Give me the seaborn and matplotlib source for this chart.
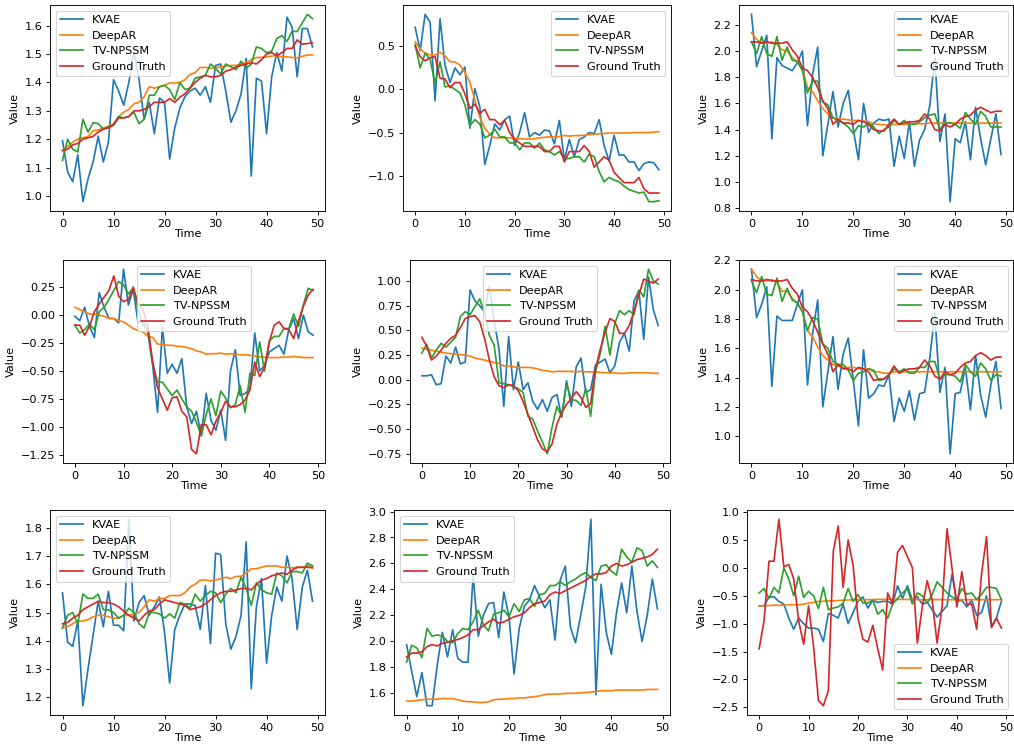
import numpy as np
import seaborn as sns
import matplotlib.pyplot as plt

series_names = ['KVAE', 'DeepAR', 'TV-NPSSM', 'Ground Truth']
time = np.arange(50)

# panel 1
kvae_1 = [1.195, 1.085, 1.05, 1.145, 0.98, 1.06, 1.12, 1.21, 1.12, 1.19, 1.41, 1.37, 1.32, 1.40, 1.51, 1.41, 1.27, 1.33, 1.22, 1.345,
          1.33, 1.13, 1.24, 1.31, 1.35, 1.37, 1.38, 1.355, 1.385, 1.33, 1.46, 1.465, 1.37, 1.26, 1.30, 1.36, 1.485, 1.07, 1.415, 1.405,
          1.22, 1.42, 1.505, 1.44, 1.63, 1.595, 1.42, 1.59, 1.59, 1.525]
deepar_1 = [1.16, 1.175, 1.19, 1.20, 1.205, 1.21, 1.23, 1.232, 1.24, 1.245, 1.255, 1.28, 1.295, 1.305, 1.325, 1.33, 1.35, 1.385, 1.38, 1.385,
            1.39, 1.398, 1.398, 1.40, 1.41, 1.428, 1.435, 1.453, 1.453, 1.45, 1.452, 1.455, 1.458, 1.46, 1.46, 1.465, 1.47, 1.48, 1.488, 1.488,
            1.49, 1.493, 1.495, 1.49, 1.49, 1.488, 1.487, 1.492, 1.497, 1.497]
tvnpssm_1 = [1.125, 1.20, 1.165, 1.155, 1.27, 1.225, 1.258, 1.255, 1.235, 1.245, 1.25, 1.28, 1.275, 1.28, 1.295, 1.255, 1.27, 1.355, 1.355, 1.385,
             1.39, 1.375, 1.34, 1.40, 1.375, 1.38, 1.415, 1.42, 1.425, 1.465, 1.45, 1.43, 1.465, 1.455, 1.445, 1.475, 1.45, 1.465, 1.525, 1.52,
             1.505, 1.51, 1.555, 1.565, 1.545, 1.58, 1.58, 1.61, 1.64, 1.625]
truth_1 = [1.16, 1.165, 1.18, 1.185, 1.20, 1.205, 1.21, 1.225, 1.235, 1.24, 1.25, 1.275, 1.275, 1.28, 1.30, 1.30, 1.305, 1.315, 1.33, 1.33,
           1.33, 1.343, 1.33, 1.348, 1.36, 1.38, 1.40, 1.415, 1.425, 1.42, 1.42, 1.425, 1.44, 1.445, 1.455, 1.46, 1.465, 1.47, 1.465, 1.48,
           1.50, 1.505, 1.495, 1.505, 1.52, 1.52, 1.55, 1.535, 1.537, 1.54]

# panel 2
kvae_2 = [0.72, 0.45, 0.87, 0.78, -0.13, 0.82, 0.28, 0.08, 0.25, 0.17, 0.26, -0.45, 0.01, -0.20, -0.87, -0.65, -0.40, -0.47, -0.35, -0.31,
          -0.65, -0.50, -0.27, -0.55, -0.50, -0.53, -0.47, -0.48, -0.63, -0.36, -0.82, -0.58, -0.78, -0.58, -0.55, -0.50, -0.51, -0.35, -0.65, -0.83,
          -0.53, -0.76, -0.76, -0.84, -0.84, -0.94, -0.86, -0.84, -0.85, -0.93]
deepar_2 = [0.55, 0.47, 0.42, 0.40, 0.40, 0.43, 0.39, 0.32, 0.32, 0.28, 0.20, 0.08, -0.12, -0.32, -0.45, -0.52, -0.56, -0.56, -0.56, -0.56,
            -0.565, -0.57, -0.575, -0.575, -0.57, -0.56, -0.555, -0.55, -0.55, -0.545, -0.535, -0.54, -0.535, -0.535, -0.53, -0.525, -0.52, -0.515, -0.51, -0.505,
            -0.505, -0.505, -0.505, -0.505, -0.50, -0.50, -0.50, -0.50, -0.495, -0.49]
tvnpssm_2 = [0.52, 0.25, 0.42, 0.35, 0.07, 0.32, 0.03, 0.04, 0.00, -0.04, -0.18, -0.42, -0.35, -0.40, -0.56, -0.53, -0.46, -0.55, -0.55, -0.62,
             -0.62, -0.70, -0.62, -0.62, -0.68, -0.62, -0.70, -0.72, -0.76, -0.72, -0.80, -0.80, -0.78, -0.78, -0.84, -0.75, -0.78, -0.95, -1.07, -1.02,
             -1.05, -1.07, -1.12, -1.16, -1.18, -1.20, -1.19, -1.30, -1.30, -1.29]
truth_2 = [0.50, 0.38, 0.33, 0.37, 0.38, 0.13, 0.12, 0.02, 0.08, 0.08, -0.05, -0.22, -0.17, -0.28, -0.23, -0.35, -0.35, -0.41, -0.36, -0.50,
           -0.58, -0.62, -0.66, -0.66, -0.66, -0.66, -0.72, -0.72, -0.66, -0.66, -0.84, -0.72, -0.72, -0.72, -0.65, -0.72, -0.90, -0.84, -0.78, -0.82,
           -0.96, -1.02, -1.08, -1.08, -1.08, -1.02, -1.15, -1.20, -1.20, -1.20]

# panel 3
kvae_3 = [2.28, 1.88, 2.00, 2.12, 1.33, 1.95, 1.89, 1.87, 1.85, 1.91, 2.00, 1.43, 1.82, 2.03, 1.20, 1.44, 1.69, 1.42, 1.60, 1.70,
          1.40, 1.17, 1.60, 1.38, 1.45, 1.48, 1.47, 1.48, 1.12, 1.35, 1.18, 1.46, 1.12, 1.32, 1.40, 1.58, 1.95, 1.31, 1.52, 0.85,
          1.33, 1.30, 1.46, 1.17, 1.57, 1.33, 1.13, 1.33, 1.52, 1.21]
deepar_3 = [2.14, 2.09, 2.06, 2.06, 2.07, 2.05, 2.01, 2.00, 1.95, 1.92, 1.86, 1.72, 1.69, 1.62, 1.56, 1.52, 1.49, 1.48, 1.48, 1.475,
            1.47, 1.47, 1.465, 1.46, 1.445, 1.44, 1.435, 1.435, 1.44, 1.44, 1.44, 1.44, 1.445, 1.445, 1.445, 1.45, 1.45, 1.45, 1.45, 1.45,
            1.45, 1.45, 1.45, 1.45, 1.45, 1.45, 1.45, 1.45, 1.45, 1.45]
tvnpssm_3 = [2.07, 1.98, 2.11, 1.98, 1.96, 2.11, 1.93, 2.03, 1.93, 1.92, 1.85, 1.68, 1.77, 1.77, 1.61, 1.59, 1.49, 1.47, 1.45, 1.42,
             1.37, 1.43, 1.42, 1.45, 1.42, 1.37, 1.40, 1.42, 1.47, 1.44, 1.47, 1.44, 1.44, 1.46, 1.49, 1.51, 1.52, 1.40, 1.45, 1.45,
             1.44, 1.41, 1.53, 1.48, 1.44, 1.54, 1.50, 1.42, 1.42, 1.42]
truth_3 = [2.07, 2.07, 2.06, 2.07, 2.06, 2.06, 2.06, 2.07, 2.01, 1.96, 1.87, 1.85, 1.80, 1.72, 1.62, 1.56, 1.44, 1.48, 1.45, 1.45,
           1.44, 1.47, 1.46, 1.44, 1.40, 1.39, 1.39, 1.44, 1.48, 1.44, 1.45, 1.46, 1.46, 1.47, 1.52, 1.48, 1.40, 1.39, 1.44, 1.42,
           1.44, 1.48, 1.50, 1.51, 1.55, 1.57, 1.55, 1.53, 1.54, 1.54]

# panel 4
kvae_4 = [-0.01, -0.05, 0.07, -0.10, -0.20, 0.20, 0.07, -0.03, -0.03, -0.07, 0.41, 0.09, 0.23, -0.07, -0.05, -0.15, -0.45, -0.87, -0.11, -0.52,
          -0.44, -0.52, -0.39, -0.82, -0.97, -0.86, -1.08, -0.70, -0.94, -1.03, -0.85, -1.12, -0.50, -0.31, -0.72, -0.70, -0.66, -0.16, -0.50, -0.45,
          -0.33, -0.30, -0.27, -0.35, -0.13, -0.03, -0.21, 0.00, -0.15, -0.18]
deepar_4 = [0.07, 0.05, 0.03, 0.01, 0.01, 0.00, -0.01, -0.03, -0.03, -0.05, -0.06, -0.09, -0.12, -0.14, -0.15, -0.19, -0.20, -0.26, -0.26, -0.27,
            -0.27, -0.28, -0.28, -0.29, -0.30, -0.32, -0.33, -0.35, -0.345, -0.345, -0.34, -0.35, -0.345, -0.35, -0.355, -0.355, -0.36, -0.365, -0.375, -0.375,
            -0.38, -0.38, -0.38, -0.375, -0.375, -0.37, -0.375, -0.38, -0.38, -0.38]
tvnpssm_4 = [-0.09, -0.16, -0.13, -0.08, -0.13, 0.03, 0.07, 0.14, 0.22, 0.30, 0.27, 0.19, 0.24, 0.05, -0.09, -0.14, -0.43, -0.60, -0.60, -0.66,
             -0.72, -0.67, -0.75, -0.82, -0.86, -0.96, -1.08, -0.89, -0.75, -0.90, -0.68, -0.74, -0.83, -0.80, -0.63, -0.87, -0.52, -0.54, -0.24, -0.50,
             -0.23, -0.19, -0.19, -0.12, -0.12, 0.01, -0.10, 0.09, 0.24, 0.22]
truth_4 = [-0.09, -0.09, -0.18, -0.10, 0.03, 0.10, 0.16, 0.22, 0.35, 0.17, 0.12, 0.14, 0.25, 0.10, 0.05, -0.10, -0.42, -0.65, -0.75, -0.85,
           -0.74, -0.73, -0.86, -0.91, -1.20, -1.24, -0.98, -0.98, -1.07, -0.95, -0.87, -0.77, -0.82, -0.82, -0.80, -0.76, -0.67, -0.42, -0.55, -0.47,
           -0.24, -0.09, -0.06, -0.12, -0.13, -0.21, -0.05, 0.08, 0.18, 0.23]

# panel 5
kvae_5 = [0.04, 0.04, 0.05, -0.05, -0.04, 0.24, 0.17, 0.33, 0.16, 0.18, 0.91, 0.80, 0.75, 0.69, 0.95, 0.60, 0.31, -0.27, 0.44, -0.10,
          0.18, -0.10, -0.03, -0.22, -0.30, -0.20, -0.32, -0.18, -0.15, -0.38, -0.01, -0.27, 0.13, 0.22, -0.13, -0.10, 0.15, 0.18, 0.21, 0.07,
          0.14, 0.38, 0.47, 0.29, 0.80, 0.90, 0.41, 1.04, 0.71, 0.55]
deepar_5 = [0.32, 0.31, 0.30, 0.29, 0.28, 0.27, 0.265, 0.26, 0.255, 0.25, 0.24, 0.22, 0.21, 0.20, 0.185, 0.175, 0.165, 0.14, 0.14, 0.13,
            0.125, 0.125, 0.125, 0.12, 0.11, 0.095, 0.09, 0.08, 0.085, 0.085, 0.085, 0.085, 0.08, 0.085, 0.08, 0.08, 0.08, 0.075, 0.07, 0.07,
            0.07, 0.065, 0.065, 0.07, 0.07, 0.07, 0.07, 0.07, 0.065, 0.065]
tvnpssm_5 = [0.27, 0.36, 0.22, 0.30, 0.37, 0.33, 0.38, 0.43, 0.64, 0.69, 0.66, 0.74, 0.82, 0.68, 0.45, 0.35, -0.03, -0.04, -0.05, -0.07,
             -0.09, -0.13, -0.37, -0.40, -0.52, -0.63, -0.75, -0.48, -0.27, -0.37, -0.04, -0.20, -0.21, -0.26, -0.09, -0.37, 0.08, 0.27, 0.54, 0.25,
             0.57, 0.70, 0.66, 0.70, 0.66, 0.91, 0.84, 1.12, 1.00, 0.97]
truth_5 = [0.43, 0.34, 0.20, 0.24, 0.30, 0.37, 0.42, 0.45, 0.53, 0.62, 0.64, 0.65, 0.59, 0.42, 0.20, 0.03, -0.06, -0.08, -0.05, -0.06,
           -0.11, -0.22, -0.35, -0.48, -0.61, -0.70, -0.73, -0.65, -0.45, -0.33, -0.25, -0.19, -0.12, -0.18, -0.28, -0.24, 0.11, 0.31, 0.48, 0.62,
           0.59, 0.47, 0.47, 0.55, 0.69, 0.86, 1.02, 1.00, 0.98, 1.02]

# panel 6
kvae_6 = [2.14, 1.81, 1.90, 2.02, 1.34, 1.82, 1.79, 1.79, 1.79, 1.90, 2.00, 1.35, 1.70, 1.93, 1.20, 1.44, 1.68, 1.32, 1.56, 1.67,
          1.38, 1.07, 1.59, 1.26, 1.29, 1.35, 1.34, 1.42, 1.10, 1.26, 1.17, 1.31, 1.11, 1.29, 1.30, 1.53, 1.84, 1.30, 1.47, 0.88,
          1.29, 1.30, 1.47, 1.18, 1.55, 1.28, 1.13, 1.35, 1.51, 1.19]
deepar_6 = [2.14, 2.09, 2.06, 2.06, 2.07, 2.05, 1.99, 1.99, 1.94, 1.91, 1.85, 1.72, 1.68, 1.61, 1.55, 1.52, 1.49, 1.48, 1.47, 1.47,
            1.47, 1.46, 1.46, 1.46, 1.44, 1.44, 1.43, 1.43, 1.44, 1.44, 1.44, 1.44, 1.44, 1.44, 1.44, 1.44, 1.44, 1.44, 1.44, 1.44,
            1.44, 1.44, 1.44, 1.44, 1.44, 1.44, 1.44, 1.44, 1.44, 1.44]
tvnpssm_6 = [2.06, 1.98, 2.09, 1.97, 1.96, 2.08, 1.92, 2.01, 1.93, 1.91, 1.85, 1.72, 1.81, 1.80, 1.63, 1.60, 1.51, 1.49, 1.49, 1.45,
             1.38, 1.43, 1.44, 1.46, 1.45, 1.38, 1.39, 1.42, 1.46, 1.44, 1.46, 1.43, 1.43, 1.47, 1.47, 1.51, 1.51, 1.39, 1.42, 1.42,
             1.41, 1.37, 1.49, 1.44, 1.41, 1.50, 1.46, 1.38, 1.42, 1.41]
truth_6 = [2.07, 2.06, 2.06, 2.07, 2.06, 2.06, 2.06, 2.07, 2.01, 1.97, 1.88, 1.85, 1.79, 1.71, 1.63, 1.56, 1.44, 1.49, 1.46, 1.46,
           1.44, 1.47, 1.46, 1.44, 1.38, 1.39, 1.39, 1.42, 1.48, 1.43, 1.45, 1.46, 1.46, 1.47, 1.52, 1.48, 1.41, 1.39, 1.44, 1.42,
           1.43, 1.47, 1.50, 1.51, 1.55, 1.57, 1.55, 1.52, 1.54, 1.54]

# panel 7
kvae_7 = [1.57, 1.395, 1.38, 1.47, 1.17, 1.30, 1.42, 1.54, 1.45, 1.575, 1.455, 1.455, 1.435, 1.83, 1.47, 1.535, 1.56, 1.49, 1.52, 1.555,
          1.43, 1.25, 1.44, 1.49, 1.53, 1.53, 1.525, 1.44, 1.595, 1.39, 1.71, 1.705, 1.46, 1.37, 1.415, 1.49, 1.75, 1.23, 1.52, 1.62,
          1.32, 1.49, 1.59, 1.54, 1.70, 1.62, 1.44, 1.59, 1.65, 1.54]
deepar_7 = [1.445, 1.45, 1.46, 1.47, 1.47, 1.475, 1.485, 1.49, 1.49, 1.485, 1.48, 1.48, 1.49, 1.49, 1.495, 1.50, 1.52, 1.545, 1.54, 1.55,
            1.55, 1.56, 1.56, 1.56, 1.57, 1.59, 1.60, 1.615, 1.615, 1.612, 1.615, 1.62, 1.625, 1.62, 1.628, 1.628, 1.64, 1.655, 1.655, 1.66,
            1.665, 1.665, 1.665, 1.66, 1.66, 1.658, 1.66, 1.66, 1.665, 1.665]
tvnpssm_7 = [1.445, 1.49, 1.50, 1.46, 1.565, 1.55, 1.55, 1.565, 1.51, 1.51, 1.50, 1.48, 1.49, 1.515, 1.50, 1.46, 1.445, 1.50, 1.50, 1.495,
             1.48, 1.495, 1.48, 1.535, 1.53, 1.515, 1.565, 1.54, 1.56, 1.575, 1.57, 1.535, 1.565, 1.585, 1.57, 1.625, 1.585, 1.525, 1.605, 1.58,
             1.57, 1.565, 1.64, 1.63, 1.605, 1.645, 1.645, 1.64, 1.675, 1.665]
truth_7 = [1.46, 1.465, 1.48, 1.49, 1.51, 1.52, 1.53, 1.54, 1.535, 1.535, 1.53, 1.52, 1.505, 1.49, 1.48, 1.47, 1.49, 1.505, 1.51, 1.53,
           1.545, 1.54, 1.535, 1.53, 1.525, 1.51, 1.515, 1.52, 1.53, 1.545, 1.56, 1.57, 1.575, 1.575, 1.58, 1.585, 1.585, 1.58, 1.60, 1.615,
           1.62, 1.63, 1.635, 1.64, 1.635, 1.65, 1.66, 1.66, 1.66, 1.658]

# panel 8
kvae_8 = [1.975, 1.77, 1.575, 1.76, 1.505, 1.505, 1.82, 2.07, 1.88, 2.09, 1.87, 1.84, 1.84, 2.51, 2.04, 2.20, 2.29, 2.30, 2.03, 2.38,
          2.19, 1.75, 2.10, 2.27, 2.32, 2.43, 2.34, 2.26, 2.32, 2.01, 2.47, 2.58, 2.11, 1.99, 2.20, 2.42, 2.94, 1.59, 2.44, 2.07,
          1.90, 2.22, 2.45, 2.22, 2.58, 2.23, 2.00, 2.20, 2.48, 2.25]
deepar_8 = [1.54, 1.54, 1.545, 1.55, 1.555, 1.555, 1.555, 1.56, 1.56, 1.56, 1.55, 1.54, 1.535, 1.535, 1.53, 1.53, 1.535, 1.55, 1.555, 1.555,
            1.56, 1.56, 1.565, 1.565, 1.57, 1.575, 1.58, 1.59, 1.595, 1.595, 1.595, 1.60, 1.60, 1.60, 1.605, 1.605, 1.61, 1.615, 1.62, 1.62,
            1.62, 1.625, 1.625, 1.625, 1.625, 1.625, 1.625, 1.63, 1.63, 1.63]
tvnpssm_8 = [1.84, 1.97, 1.95, 1.875, 2.10, 2.04, 2.05, 2.04, 2.00, 1.99, 2.06, 2.10, 2.09, 2.15, 2.24, 2.13, 2.08, 2.21, 2.22, 2.24,
             2.19, 2.29, 2.23, 2.32, 2.33, 2.27, 2.36, 2.37, 2.43, 2.43, 2.46, 2.43, 2.46, 2.48, 2.51, 2.53, 2.49, 2.47, 2.58, 2.59,
             2.54, 2.51, 2.71, 2.65, 2.61, 2.72, 2.70, 2.58, 2.62, 2.57]
truth_8 = [1.88, 1.91, 1.91, 1.92, 1.96, 1.975, 1.965, 1.985, 1.995, 2.005, 2.015, 2.03, 2.05, 2.09, 2.09, 2.12, 2.15, 2.17, 2.14, 2.15,
           2.17, 2.19, 2.20, 2.22, 2.26, 2.29, 2.30, 2.31, 2.36, 2.38, 2.37, 2.39, 2.41, 2.43, 2.45, 2.47, 2.50, 2.52, 2.52, 2.53,
           2.58, 2.60, 2.58, 2.59, 2.61, 2.63, 2.64, 2.65, 2.67, 2.71]

# panel 9
kvae_9 = [-0.68, -0.68, -0.52, -0.52, -0.60, -0.65, -0.90, -1.10, -0.90, -1.00, -1.08, -1.08, -1.10, -1.32, -0.82, -0.85, -0.90, -0.65, -1.00, -0.80,
          -0.60, -0.52, -0.72, -0.58, -0.62, -0.60, -0.60, -0.65, -0.32, -0.55, -0.32, -0.58, -0.52, -0.65, -0.62, -0.75, -0.88, -0.78, -0.68, -0.12,
          -0.60, -0.58, -0.70, -0.58, -0.85, -0.80, -0.50, -1.05, -0.90, -0.60]
deepar_9 = [-0.68, -0.68, -0.675, -0.67, -0.67, -0.67, -0.66, -0.66, -0.66, -0.65, -0.63, -0.62, -0.60, -0.60, -0.59, -0.59, -0.585, -0.58, -0.575, -0.575,
            -0.57, -0.57, -0.57, -0.57, -0.565, -0.565, -0.565, -0.565, -0.565, -0.565, -0.565, -0.565, -0.57, -0.57, -0.57, -0.57, -0.57, -0.57, -0.57, -0.57,
            -0.57, -0.57, -0.57, -0.57, -0.57, -0.57, -0.57, -0.57, -0.57, -0.57]
tvnpssm_9 = [-0.45, -0.37, -0.55, -0.35, -0.45, 0.00, -0.20, -0.50, -0.15, -0.53, -0.42, -0.50, -0.73, -0.35, -0.75, -0.72, -0.70, -0.63, -0.37, -0.60,
             -0.48, -0.63, -0.63, -0.58, -0.83, -0.75, -0.90, -0.65, -0.55, -0.45, -0.37, -0.65, -0.45, -0.50, -0.63, -0.48, -0.25, -0.35, -0.45, -0.52,
             -0.57, -0.37, -0.47, -0.45, -0.57, -0.47, -0.35, -0.35, -0.37, -0.57]
truth_9 = [-1.45, -0.95, 0.12, 0.12, 0.87, 0.02, 0.06, -0.20, -0.95, -1.37, -0.68, -1.40, -2.38, -2.47, -2.20, 0.30, 0.75, -0.35, 0.50, 0.05,
           -0.90, -1.28, -1.33, -1.03, -1.45, -1.83, -0.45, -0.65, 0.28, 0.40, 0.20, 0.00, -1.35, -0.70, -0.23, -0.58, -1.35, -0.70, 0.70, 0.00,
           -0.70, -0.07, -0.65, -0.65, -1.10, -0.10, 0.56, -1.07, -0.90, -1.08]

panels = [
    ([kvae_1, deepar_1, tvnpssm_1, truth_1], 'upper left'),
    ([kvae_2, deepar_2, tvnpssm_2, truth_2], 'upper right'),
    ([kvae_3, deepar_3, tvnpssm_3, truth_3], 'upper right'),
    ([kvae_4, deepar_4, tvnpssm_4, truth_4], 'upper center'),
    ([kvae_5, deepar_5, tvnpssm_5, truth_5], 'upper center'),
    ([kvae_6, deepar_6, tvnpssm_6, truth_6], 'upper right'),
    ([kvae_7, deepar_7, tvnpssm_7, truth_7], 'upper left'),
    ([kvae_8, deepar_8, tvnpssm_8, truth_8], 'upper left'),
    ([kvae_9, deepar_9, tvnpssm_9, truth_9], 'lower right'),
]

# each panel sits in its own box (pixels: left, top, right, bottom), as in the source figure
W, H = 1014, 745
boxes = [
    (50, 5, 325, 211), (403, 5, 671, 211), (739, 5, 1013.5, 211),
    (63, 260, 325, 463), (410, 260, 670, 463), (739, 260, 1013.5, 463),
    (50, 510, 325, 715), (394, 510, 670, 715), (747, 510, 1013.5, 715),
]

colors = sns.color_palette('tab10', 4)

fig = plt.figure(figsize=(W / 81, H / 81), dpi=81)
for (l, t, r, b), (series, loc) in zip(boxes, panels):
    ax = fig.add_axes([l / W, 1 - b / H, (r - l) / W, (b - t) / H])
    for name, vals, c in zip(series_names, series, colors):
        sns.lineplot(x=time, y=vals, label=name, color=c, ax=ax, linewidth=1.5)
    ax.set_xlabel('Time', labelpad=0)
    ax.set_ylabel('Value')
    ax.set_xticks([0, 10, 20, 30, 40, 50])
    ax.legend(loc=loc)

plt.savefig('out.png', dpi=81)
plt.close()
